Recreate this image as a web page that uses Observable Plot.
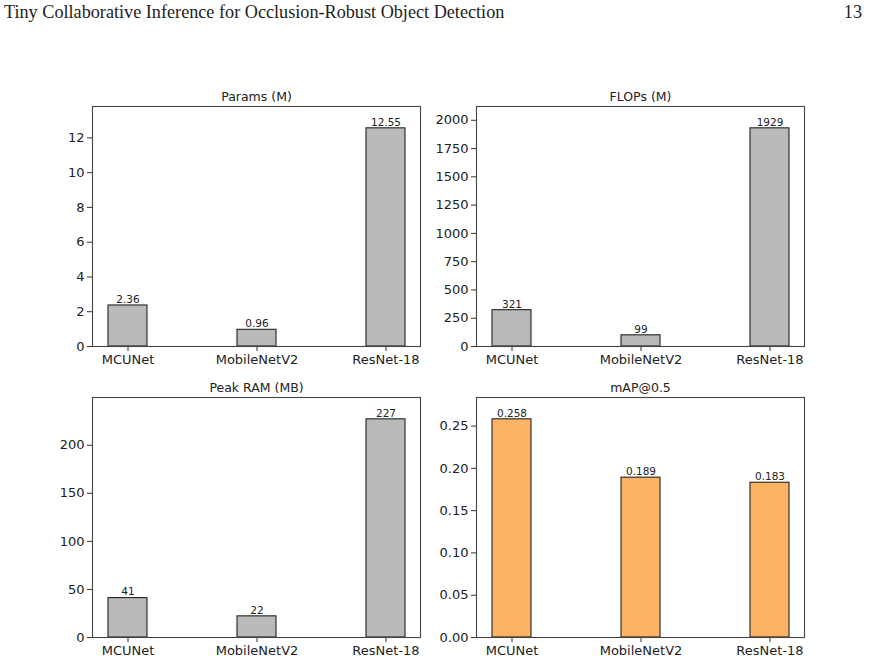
<!DOCTYPE html>
<html>
<head>
<meta charset="utf-8">
<script src="https://cdn.jsdelivr.net/npm/d3@7"></script>
<script src="https://cdn.jsdelivr.net/npm/@observablehq/plot@0.6"></script>
<style>
  html, body { margin: 0; padding: 0; background: #fff; }
  #page { position: relative; width: 869px; height: 661px; overflow: hidden; }
  .header { position: absolute; top: 2px; font-family: "Liberation Serif", "DejaVu Serif", serif; font-size: 18.2px; color: #222; }
  .panel { position: absolute; }
</style>
</head>
<body>
<div id="page">
  <div class="header" style="left:4px;">Tiny Collaborative Inference for Occlusion-Robust Object Detection</div>
  <div class="header" style="right:7px;">13</div>
</div>
<script>
// Models compared in every panel
const models = ["MCUNet", "MobileNetV2", "ResNet-18"];

// Measured values per metric
const paramsM = [2.36, 0.96, 12.55];
const flopsM = [321, 99, 1929];
const peakRamMB = [41, 22, 227];
const map50 = [0.258, 0.189, 0.183];

// Value labels printed above the bars
const paramsLabels = ["2.36", "0.96", "12.55"];
const flopsLabels = ["321", "99", "1929"];
const ramLabels = ["41", "22", "227"];
const mapLabels = ["0.258", "0.189", "0.183"];

// Y tick values per panel
const paramsTicks = [0, 2, 4, 6, 8, 10, 12];
const flopsTicks = [0, 250, 500, 750, 1000, 1250, 1500, 1750, 2000];
const ramTicks = [0, 50, 100, 150, 200];
const mapTicks = [0, 0.05, 0.10, 0.15, 0.20, 0.25];

const panels = [
  {title: "Params (M)", values: paramsM, labels: paramsLabels, ticks: paramsTicks, fmt: d3.format("d"), fill: "#bababa", left: 40, top: 76},
  {title: "FLOPs (M)", values: flopsM, labels: flopsLabels, ticks: flopsTicks, fmt: d3.format("d"), fill: "#bababa", left: 424, top: 76},
  {title: "Peak RAM (MB)", values: peakRamMB, labels: ramLabels, ticks: ramTicks, fmt: d3.format("d"), fill: "#bababa", left: 40, top: 367},
  {title: "mAP@0.5", values: map50, labels: mapLabels, ticks: mapTicks, fmt: d3.format(".2f"), fill: "#fdb366", left: 424, top: 367}
];

const page = document.getElementById("page");

for (const p of panels) {
  const rows = models.map((m, i) => ({model: m, value: p.values[i], label: p.labels[i]}));
  // headroom of 10% above the tallest bar
  const ymax = d3.max(p.values) * 1.1;
  const chart = Plot.plot({
    width: 390,
    height: 301,
    marginLeft: 52,
    marginRight: 10,
    marginTop: 30,
    marginBottom: 31,
    style: {fontFamily: "'DejaVu Sans', sans-serif", fontSize: "13px", color: "#222", background: "transparent"},
    x: {domain: models, paddingInner: 0.7, paddingOuter: 0.12, align: 0.5, label: null},
    y: {domain: [0, ymax], label: null},
    marks: [
      Plot.barY(rows, {x: "model", y: "value", fill: p.fill, stroke: "#222", strokeWidth: 1.1}),
      Plot.text(rows, {x: "model", y: "value", text: "label", dy: -6, fontSize: 10.5, fill: "#222"}),
      Plot.axisX({tickSize: 5, tickPadding: 3, fontSize: 13, stroke: "#333"}),
      Plot.axisY({ticks: p.ticks, tickFormat: p.fmt, tickSize: 5, tickPadding: 3, fontSize: 13, stroke: "#333"}),
      Plot.frame({stroke: "#444", strokeWidth: 1.1}),
      Plot.text([p.title], {frameAnchor: "top", dy: -14, fontSize: 12.5, fill: "#222"})
    ]
  });
  const holder = document.createElement("div");
  holder.className = "panel";
  holder.style.left = p.left + "px";
  holder.style.top = p.top + "px";
  holder.appendChild(chart);
  page.appendChild(holder);
}
</script>
</body>
</html>
